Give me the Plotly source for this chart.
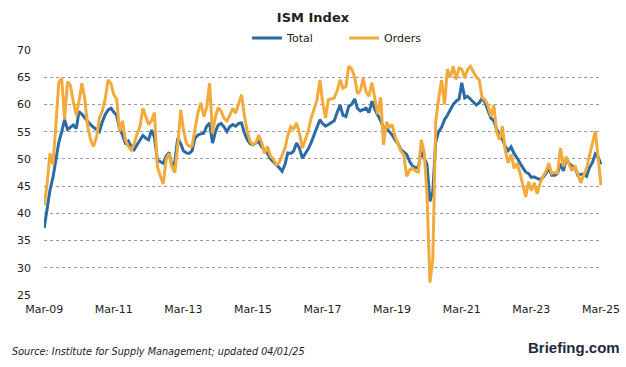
import pandas as pd
import plotly.graph_objects as go

# Monthly values, Mar-2009 .. Mar-2025
total = [
    37.3, 40.5, 44.3, 46.6, 50.0, 53.0, 55.0, 57.2, 55.4, 55.8,              # 2009 (Mar-Dec)
    56.2, 55.6, 58.7, 58.2, 57.5, 57.0, 56.3, 55.8, 55.3, 55.0, 56.8, 58.1,  # 2010
    59.0, 59.3, 58.6, 58.0, 55.5, 54.4, 52.9, 53.3, 52.3, 51.7, 52.6, 53.5,  # 2011
    54.3, 53.8, 53.5, 55.3, 54.0, 49.8, 49.5, 49.2, 50.5, 51.2, 48.7, 49.5,  # 2012
    53.8, 52.8, 51.5, 51.1, 51.0, 51.5, 53.8, 54.4, 54.6, 54.7, 56.0, 56.6,  # 2013
    52.9, 55.0, 56.2, 56.5, 55.9, 55.0, 55.9, 56.3, 56.0, 56.5, 56.6, 54.8,  # 2014
    53.5, 52.8, 52.6, 52.9, 53.2, 52.2, 51.7, 51.0, 50.0, 49.5, 48.9, 48.4,  # 2015
    47.7, 49.0, 51.1, 51.0, 51.4, 52.9, 52.0, 50.1, 51.0, 51.8, 53.0, 54.5,  # 2016
    56.0, 57.2, 56.5, 56.0, 56.3, 56.6, 57.0, 58.5, 59.9, 58.0, 57.8, 59.7,  # 2017
    60.0, 61.0, 59.3, 58.8, 59.0, 59.3, 58.5, 60.6, 59.1, 58.2, 57.0, 55.7,  # 2018
    55.5, 55.0, 54.4, 53.5, 52.8, 51.7, 51.3, 50.8, 49.5, 48.7, 48.4, 48.4,  # 2019
    51.4, 50.2, 49.0, 42.2, 44.0, 53.2, 55.0, 55.8, 57.2, 58.0, 59.0, 60.0,  # 2020
    60.6, 61.0, 64.0, 61.2, 61.5, 61.0, 60.5, 59.9, 60.3, 61.2, 60.3, 58.8,  # 2021
    57.5, 57.0, 55.5, 54.5, 53.6, 52.3, 51.5, 52.2, 51.0, 50.2, 49.2, 48.4,  # 2022
    47.6, 47.3, 46.6, 46.7, 46.4, 46.2, 46.6, 47.3, 48.3, 47.0, 47.0, 47.3,  # 2023
    49.1, 47.8, 50.0, 49.2, 48.7, 48.5, 47.0, 47.2, 47.2, 46.8, 48.4, 49.3,  # 2024
    50.9, 50.3, 49.0,                                                        # 2025 (Jan-Mar)
]

orders = [
    41.5, 45.5, 51.0, 49.0, 56.0, 64.0, 64.8, 57.3, 64.2, 63.5,              # 2009 (Mar-Dec)
    60.5, 58.0, 60.5, 63.9, 61.0, 56.0, 53.5, 52.3, 54.0, 57.5, 58.8, 61.0,  # 2010
    64.5, 63.8, 61.8, 61.0, 55.0, 57.0, 53.5, 52.3, 51.6, 52.8, 54.6, 55.9,  # 2011
    59.3, 57.8, 56.3, 57.0, 58.5, 48.5, 46.8, 45.4, 49.8, 51.0, 48.5, 47.5,  # 2012
    52.5, 59.0, 55.5, 52.9, 52.3, 52.4, 55.5, 58.5, 60.3, 57.8, 59.5, 63.9,  # 2013
    54.7, 57.8, 59.4, 58.8, 57.5, 57.0, 58.0, 59.3, 58.4, 59.9, 61.8, 58.0,  # 2014
    55.0, 53.2, 52.6, 53.0, 54.4, 53.0, 51.0, 52.3, 50.5, 50.0, 48.9, 49.3,  # 2015
    50.5, 52.0, 54.3, 55.9, 55.5, 56.6, 54.8, 52.0, 53.5, 55.1, 57.5, 59.0,  # 2016
    60.8, 64.5, 60.5, 57.5, 60.9, 61.0, 61.2, 62.5, 64.5, 63.0, 63.3, 67.0,  # 2017
    66.5, 65.0, 62.0, 62.5, 64.8, 62.3, 61.5, 64.0, 61.0, 58.2, 61.3, 52.6,  # 2018
    56.8, 55.8, 56.3, 54.1, 52.8, 51.4, 50.8, 46.8, 48.0, 48.3, 47.8, 47.6,  # 2019
    53.5, 51.2, 43.5, 27.3, 31.5, 57.0, 61.0, 64.5, 60.0, 66.5, 65.0, 67.0,  # 2020
    64.6, 66.7, 66.5, 64.8, 66.4, 67.0, 66.0, 65.0, 64.5, 61.2, 60.8, 59.8,  # 2021
    57.8, 59.9, 55.0, 53.5, 56.0, 51.5, 49.3, 50.8, 48.3, 49.2, 47.5, 45.4,  # 2022
    43.0, 45.8, 44.2, 45.6, 43.6, 45.5, 46.8, 47.7, 49.2, 47.3, 47.5, 47.4,  # 2023
    52.0, 48.6, 50.4, 49.0, 47.8, 48.8, 47.2, 45.6, 47.0, 48.3, 50.6, 53.0,  # 2024
    55.1, 50.0, 45.2,                                                        # 2025 (Jan-Mar)
]

start_month = "2009-03-01"
tick_years = [2009, 2011, 2013, 2015, 2017, 2019, 2021, 2023, 2025]
y_ticks = [25, 30, 35, 40, 45, 50, 55, 60, 65, 70]

dates = pd.date_range(start_month, periods=len(total), freq="MS")
tick_dates = [pd.Timestamp(f"{y}-03-01") for y in tick_years]

BLUE = "#2C6BA4"
ORANGE = "#F2AA3A"
FONT = "DejaVu Sans"
TXT = "#222222"

fig = go.Figure()
fig.add_trace(go.Scatter(x=dates, y=total, name="Total", mode="lines",
                         line=dict(color=BLUE, width=3)))
fig.add_trace(go.Scatter(x=dates, y=orders, name="Orders", mode="lines",
                         line=dict(color=ORANGE, width=3)))

fig.update_layout(
    width=626, height=367,
    margin=dict(l=44, r=24, t=50, b=72, autoexpand=False),
    paper_bgcolor="white", plot_bgcolor="white",
    font=dict(family=FONT, size=11, color=TXT),
    title=dict(text="<b>ISM Index</b>", x=0.5, xanchor="center",
               xref="container", yref="container", y=0.953, yanchor="middle",
               font=dict(family=FONT, size=13, color=TXT)),
    legend=dict(orientation="h", x=0.364, xanchor="left", y=1.049, yanchor="middle",
                font=dict(family=FONT, size=11, color=TXT),
                itemwidth=30, entrywidth=52, entrywidthmode="pixels",
                bgcolor="rgba(0,0,0,0)"),
    showlegend=True,
)

fig.update_xaxes(
    type="date", automargin=False,
    range=[pd.Timestamp("2009-02-27"), pd.Timestamp("2025-03-12")],
    tickvals=tick_dates, tickformat="%b-%y",
    showgrid=False, zeroline=False, showline=False, ticks="",
    ticklabelstandoff=6,
    tickfont=dict(family=FONT, size=11, color=TXT),
)
fig.update_yaxes(
    range=[25, 70], tickvals=y_ticks, automargin=False,
    showgrid=True, gridcolor="#9a9a9a", griddash="dot", gridwidth=1,
    zeroline=False, showline=False, ticks="",
    ticklabelstandoff=12,
    tickfont=dict(family=FONT, size=11, color=TXT),
)

fig.add_annotation(
    text="<i>Source: Institute for Supply Management; updated 04/01/25</i>",
    xref="paper", yref="paper", x=-0.061, y=-0.229, xanchor="left", yanchor="middle",
    showarrow=False, font=dict(family=FONT, size=9.7, color=TXT),
)
fig.add_annotation(
    text="<b>Briefing.com</b>",
    xref="paper", yref="paper", x=1.036, y=-0.216, xanchor="right", yanchor="middle",
    showarrow=False, font=dict(family="Liberation Sans", size=15, color="#1c2b3c"),
)

fig.write_html("out.html", config={"displayModeBar": False},
               post_script="document.body.style.margin='0';document.body.style.padding='0';")
